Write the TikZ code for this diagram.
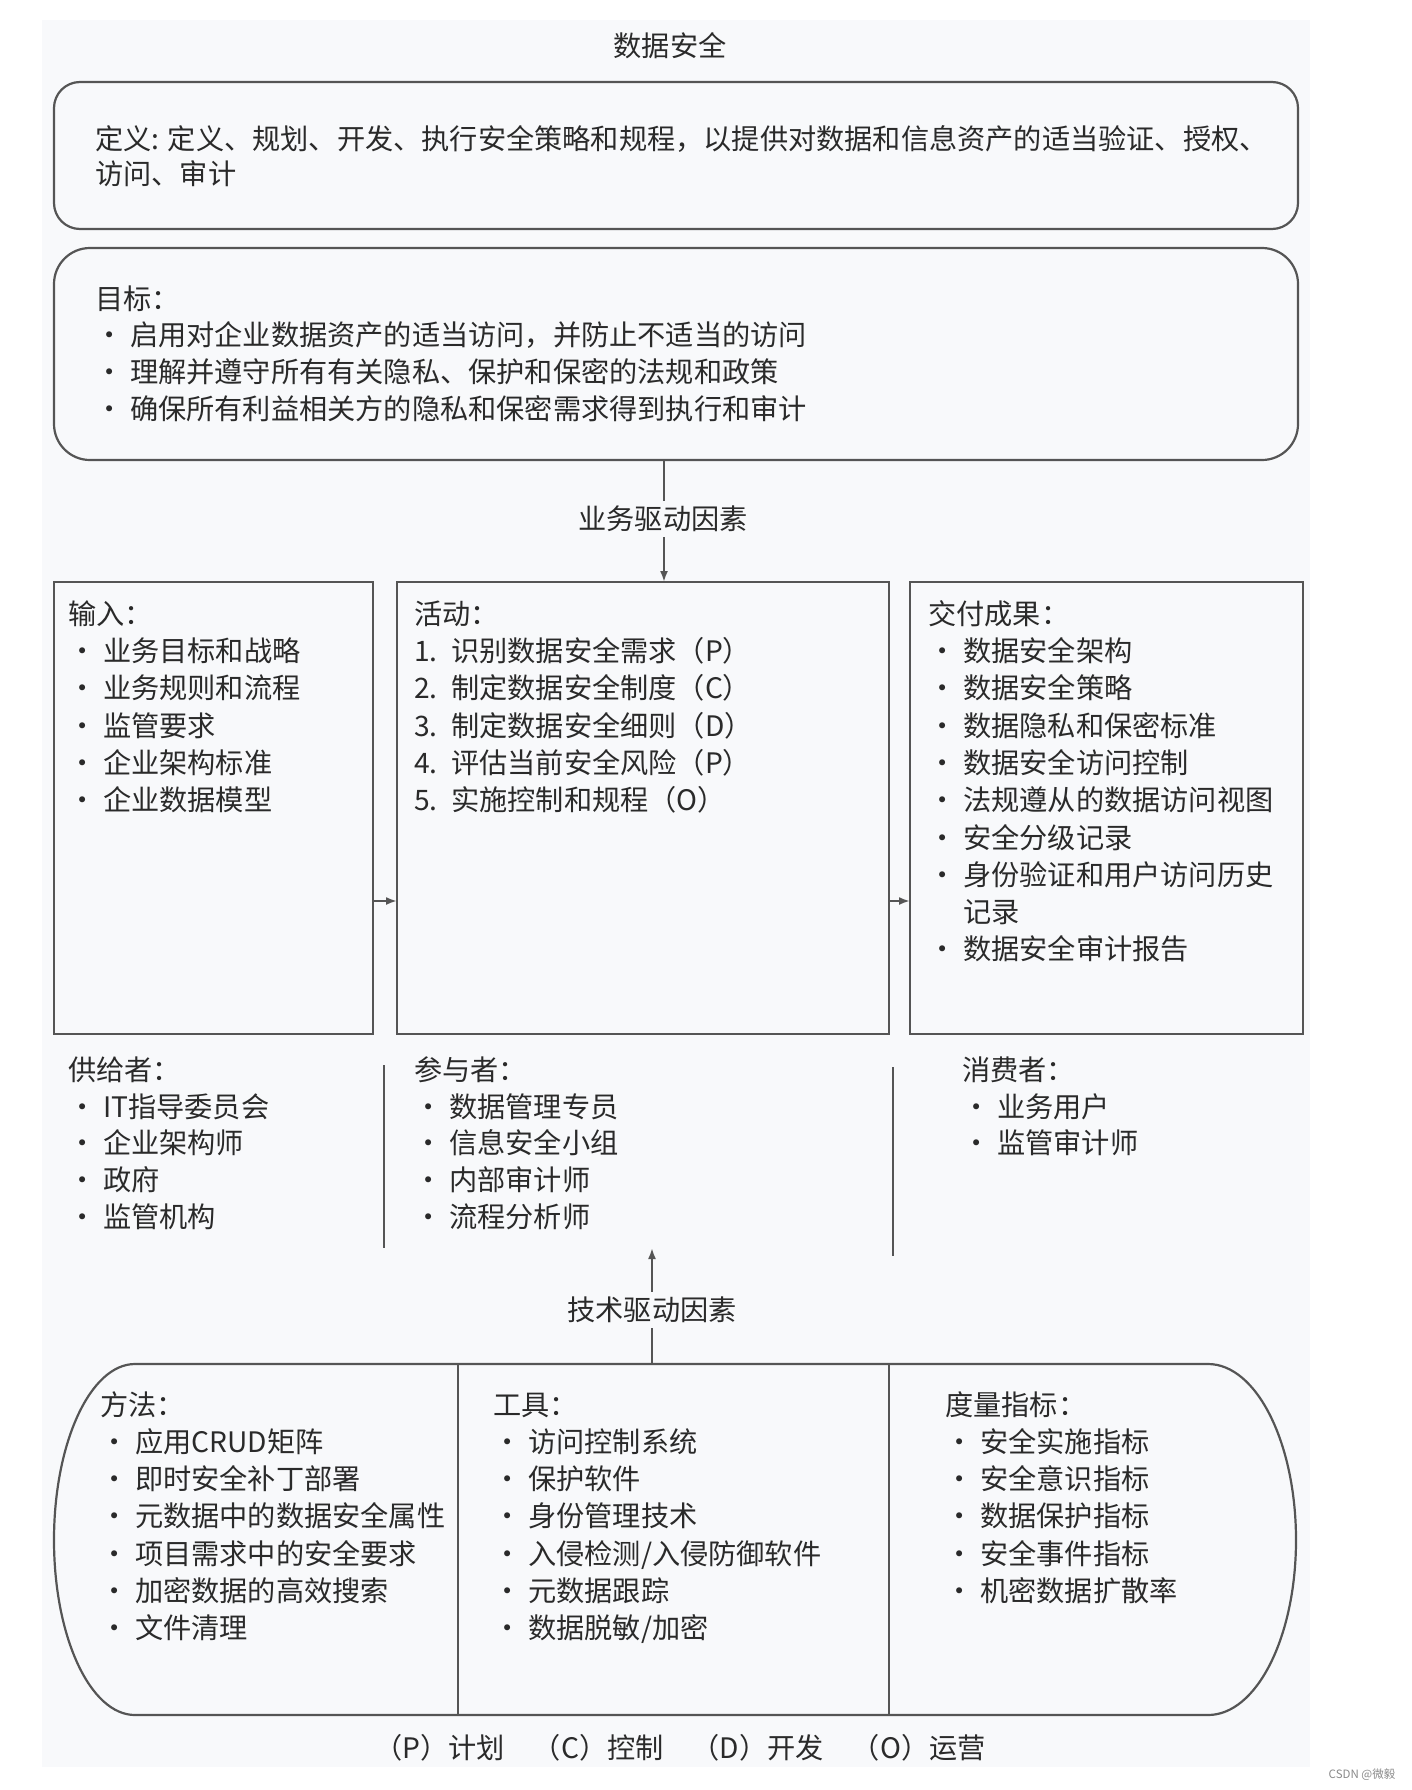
\documentclass[tikz,border=0pt]{standalone}
\usepackage{fontspec}
\setmainfont{Noto Sans CJK SC}
\newfontfamily\cjk{Noto Sans CJK SC}
\usetikzlibrary{arrows.meta}
\definecolor{ln}{HTML}{555555}
\definecolor{tx}{HTML}{2A2A2A}
\definecolor{pg}{HTML}{F8F9FB}
\definecolor{wm}{HTML}{8A8A8A}
\newcommand\bl{\makebox[35pt][l]{\hspace{0pt}·}}
\newcommand\nbl{\hspace{35pt}}
\newcommand\nm[1]{\makebox[37pt][l]{#1}}
\begin{document}
\begin{tikzpicture}[x=1pt,y=-1pt,
  txt/.style={anchor=west,inner sep=0pt,text height=24.3pt,text depth=3.9pt,
    font=\cjk\fontsize{28.2}{34}\selectfont,text=tx},
  ctxt/.style={txt,anchor=center},
  frame/.style={draw=ln,line width=2.2pt},
  conn/.style={draw=ln,line width=2pt},
  tip/.style={-{Latex[length=11pt,width=8pt]}},
  lbl/.style={ctxt,fill=pg,inner sep=4pt}
]
\useasboundingbox (0,0) rectangle (1412,1790);
\fill[white] (0,0) rectangle (1412,1790);
\fill[pg] (42,20) rectangle (1310,1767);

% title
\node[ctxt] (title) at (670,46) {数据安全};

% definition box
\node[frame,rounded corners=26pt,minimum width=1244pt,minimum height=147pt,inner sep=0pt] (def) at (676,155.5) {};
\node[txt] (def1) at (95,139) {定义: 定义、规划、开发、执行安全策略和规程，以提供对数据和信息资产的适当验证、授权、};
\node[txt] (def2) at (95,174) {访问、审计};

% goals box
\node[frame,rounded corners=36pt,minimum width=1244pt,minimum height=212pt,inner sep=0pt] (goals) at (676,354) {};
\node[txt] (goalsh) at (95,299) {目标：};
\foreach \t [count=\i] in {启用对企业数据资产的适当访问，并防止不适当的访问,
  理解并遵守所有有关隐私、保护和保密的法规和政策,
  确保所有利益相关方的隐私和保密需求得到执行和审计}
  \node[txt] (goal\i) at (95,{299+36.7*\i}) {\bl\t};

% three boxes
\node[frame,minimum width=319pt,minimum height=452pt,inner sep=0pt] (in) at (213.5,808) {};
\node[frame,minimum width=492pt,minimum height=452pt,inner sep=0pt] (act) at (643,808) {};
\node[frame,minimum width=393pt,minimum height=452pt,inner sep=0pt] (del) at (1106.5,808) {};

% business drivers
\coordinate (bd1) at (664,460);
\coordinate (bd2) at (664,582);
\draw[conn,tip] (bd1) -- (bd2);
\node[lbl] (bdl) at (663,519) {业务驱动因素};

% arrows between boxes
\coordinate (a1) at (373,901);
\coordinate (a2) at (397,901);
\coordinate (a3) at (889,901);
\coordinate (a4) at (910,901);
\draw[conn,tip] (a1) -- (a2);
\draw[conn,tip] (a3) -- (a4);

% inputs
\node[txt] (inh) at (68,614) {输入：};
\foreach \t [count=\i] in {业务目标和战略,业务规则和流程,监管要求,企业架构标准,企业数据模型}
  \node[txt] (in\i) at (68,{614+37.3*\i}) {\bl\t};

% activities
\node[txt] (acth) at (414,614) {活动：};
\foreach \t [count=\i] in {识别数据安全需求（P）,制定数据安全制度（C）,制定数据安全细则（D）,评估当前安全风险（P）,实施控制和规程（O）}
  \node[txt] (act\i) at (414,{614+37.3*\i}) {\nm{\i.}\t};

% deliverables
\node[txt] (delh) at (928,614) {交付成果：};
\foreach \t [count=\i] in {\bl 数据安全架构,\bl 数据安全策略,\bl 数据隐私和保密标准,\bl 数据安全访问控制,
  \bl 法规遵从的数据访问视图,\bl 安全分级记录,\bl 身份验证和用户访问历史,\nbl 记录,\bl 数据安全审计报告}
  \node[txt] (del\i) at (928,{614+37.3*\i}) {\t};

% separators
\coordinate (s1a) at (384,1065);
\coordinate (s1b) at (384,1248);
\coordinate (s2a) at (893,1067);
\coordinate (s2b) at (893,1256);
\draw[conn] (s1a) -- (s1b);
\draw[conn] (s2a) -- (s2b);

% suppliers
\node[txt] (suph) at (68,1070) {供给者：};
\foreach \t [count=\i] in {IT指导委员会,企业架构师,政府,监管机构}
  \node[txt] (sup\i) at (68,{1070+36.8*\i}) {\bl\t};

% participants
\node[txt] (parh) at (414,1070) {参与者：};
\foreach \t [count=\i] in {数据管理专员,信息安全小组,内部审计师,流程分析师}
  \node[txt] (par\i) at (414,{1070+36.8*\i}) {\bl\t};

% consumers
\node[txt] (conh) at (962,1070) {消费者：};
\foreach \t [count=\i] in {业务用户,监管审计师}
  \node[txt] (con\i) at (962,{1070+36.8*\i}) {\bl\t};

% technical drivers
\coordinate (td1) at (652,1364);
\coordinate (td2) at (652,1248);
\draw[conn,tip] (td1) -- (td2);
\node[lbl] (tdl) at (652,1310) {技术驱动因素};

% bottom box
\draw[frame] (135,1364) -- (1208,1364)
  .. controls (1256.6,1364) and (1296,1443) .. (1296,1540)
  .. controls (1296,1637) and (1256.6,1715) .. (1208,1715)
  -- (135,1715)
  .. controls (90.3,1715) and (54,1637) .. (54,1540)
  .. controls (54,1443) and (90.3,1364) .. (135,1364) -- cycle;
\coordinate (d1a) at (458,1364);
\coordinate (d1b) at (458,1715);
\coordinate (d2a) at (889,1364);
\coordinate (d2b) at (889,1715);
\draw[conn] (d1a) -- (d1b);
\draw[conn] (d2a) -- (d2b);

% methods
\node[txt] (meth) at (100,1405) {方法：};
\foreach \t [count=\i] in {应用CRUD矩阵,即时安全补丁部署,元数据中的数据安全属性,项目需求中的安全要求,加密数据的高效搜索,文件清理}
  \node[txt] (met\i) at (100,{1405+37.2*\i}) {\bl\t};

% tools
\node[txt] (tooh) at (493,1405) {工具：};
\foreach \t [count=\i] in {访问控制系统,保护软件,身份管理技术,入侵检测/入侵防御软件,元数据跟踪,数据脱敏/加密}
  \node[txt] (too\i) at (493,{1405+37.2*\i}) {\bl\t};

% metrics
\node[txt] (mesh) at (945,1405) {度量指标：};
\foreach \t [count=\i] in {安全实施指标,安全意识指标,数据保护指标,安全事件指标,机密数据扩散率}
  \node[txt] (mes\i) at (945,{1405+37.2*\i}) {\bl\t};

% legend
\node[ctxt] (legend) at (680,1748) {（P）计划\hspace{28pt}（C）控制\hspace{28pt}（D）开发\hspace{28pt}（O）运营};

% watermark
\node[anchor=center,inner sep=0pt,font=\cjk\fontsize{11.5}{13}\selectfont,text=wm] (wmk) at (1362,1775) {CSDN @微毅};
\end{tikzpicture}
\end{document}
